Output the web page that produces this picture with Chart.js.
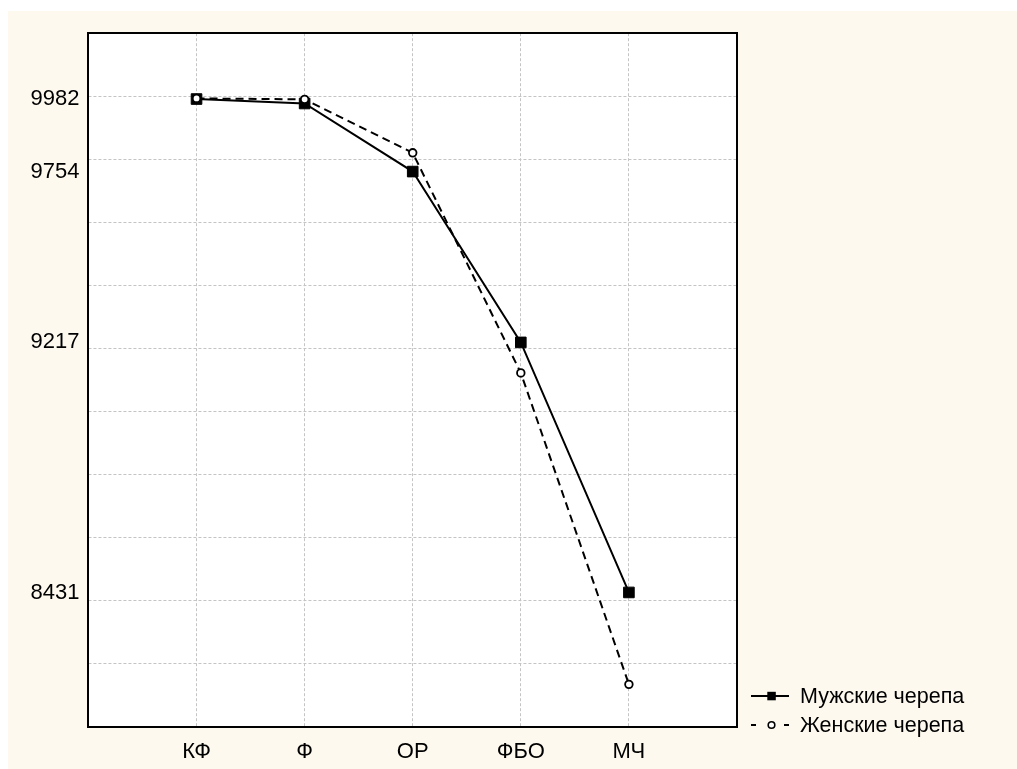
<!DOCTYPE html>
<html lang="ru">
<head>
<meta charset="utf-8">
<title>Мужские и женские черепа</title>
<script src="https://cdn.jsdelivr.net/npm/chart.js@4.4.1/dist/chart.umd.min.js"></script>
<style>
  html, body { margin: 0; padding: 0; background: #fff; }
  body { width: 1017px; height: 769px; position: relative; overflow: hidden; font-family: "Liberation Sans", Arial, sans-serif; }
  #frame { position: absolute; left: 8px; top: 11px; width: 1009px; height: 770px; background: #fdf9ee; }
  #chart { display: block; }
  .legend-row { position: absolute; left: 750px; height: 24px; line-height: 24px; font-size: 21.5px; color: #000; white-space: nowrap; }
  .legend-row svg { position: absolute; left: 0; top: 5px; }
  .legend-row span { position: absolute; left: 50px; top: 0; }
</style>
</head>
<body>
<div id="frame"><canvas id="chart" width="1009" height="770"></canvas></div>
<div class="legend-row" style="top:684px">
  <svg width="42" height="14"><line x1="1" y1="7" x2="39" y2="7" stroke="#000" stroke-width="2"/><rect x="17.3" y="2.8" width="8.5" height="8.5" fill="#000"/></svg>
  <span>Мужские черепа</span>
</div>
<div class="legend-row" style="top:713px">
  <svg width="42" height="14"><line x1="1" y1="7" x2="6" y2="7" stroke="#000" stroke-width="2"/><circle cx="21.5" cy="7" r="3.3" fill="#fff" stroke="#000" stroke-width="1.6"/><line x1="34" y1="7" x2="39" y2="7" stroke="#000" stroke-width="2"/></svg>
  <span>Женские черепа</span>
</div>
<script>
const categories = ['КФ', 'Ф', 'ОР', 'ФБО', 'МЧ'];
const maleValues = [9982, 9968, 9754, 9217, 8431];
const femaleValues = [9984, 9981, 9813, 9121, 8142];
// labels on the y axis sit at the male values
const yTickLabels = [9982, 9754, 9217, 8431];
const yMin = 8008;
const yMax = 10189;
const gridSteps = 11;

const FONT = { family: '"Liberation Sans", Arial, sans-serif', size: 22 };
const GRID = '#c4c4c4';

// white plot area on the cream page
const plotBackground = {
  id: 'plotBackground',
  beforeDraw(chart) {
    const { ctx, chartArea: a } = chart;
    ctx.save();
    ctx.fillStyle = '#fff';
    ctx.fillRect(a.left, a.top, a.right - a.left, a.bottom - a.top);
    ctx.restore();
  },
};

function toPoints(values) {
  return values.map((v, i) => ({ x: i + 1, y: v }));
}

function gridTicks() {
  const step = (yMax - yMin) / gridSteps;
  const out = [];
  for (let k = 1; k < gridSteps; k++) out.push({ value: yMin + k * step });
  return out;
}

function renderChart() {
  const ctx = document.getElementById('chart').getContext('2d');
  new Chart(ctx, {
    type: 'line',
    data: {
      datasets: [
        {
          label: 'Женские черепа',
          data: toPoints(femaleValues),
          order: 0,
          borderColor: '#000',
          borderWidth: 2,
          borderDash: [8, 5],
          pointStyle: 'circle',
          pointRadius: 3.8,
          pointBorderWidth: 1.8,
          pointBackgroundColor: '#fff',
          pointBorderColor: '#000',
          xAxisID: 'x',
          yAxisID: 'y',
        },
        {
          label: 'Мужские черепа',
          data: toPoints(maleValues),
          order: 1,
          borderColor: '#000',
          borderWidth: 2,
          pointStyle: 'rect',
          pointRadius: 7.5,
          pointBorderWidth: 1,
          pointBackgroundColor: '#000',
          pointBorderColor: '#000',
          xAxisID: 'x',
          yAxisID: 'y',
        },
      ],
    },
    options: {
      responsive: false,
      animation: false,
      devicePixelRatio: 1,
      layout: { padding: { left: 13.5, top: 18, right: 280, bottom: 4 } },
      plugins: {
        legend: { display: false },
        tooltip: { enabled: false },
      },
      scales: {
        x: {
          type: 'linear',
          position: 'bottom',
          min: 0,
          max: categories.length + 1,
          afterBuildTicks: axis => { axis.ticks = categories.map((c, i) => ({ value: i + 1 })); },
          ticks: {
            color: '#000',
            font: FONT,
            padding: 11.8,
            autoSkip: false,
            maxRotation: 0,
            callback: (v, i) => categories[i],
          },
          grid: { color: GRID, lineWidth: 1, drawTicks: false },
          border: { color: '#000', width: 2, dash: [3, 2] },
        },
        xTop: {
          type: 'linear',
          position: 'top',
          min: 0,
          max: categories.length + 1,
          ticks: { display: false },
          grid: { display: false, drawTicks: false },
          border: { color: '#000', width: 2 },
        },
        y: {
          type: 'linear',
          position: 'left',
          min: yMin,
          max: yMax,
          afterBuildTicks: axis => { axis.ticks = yTickLabels.map(v => ({ value: v })); },
          ticks: {
            color: '#000',
            font: FONT,
            padding: 9,
            autoSkip: false,
            callback: v => String(v),
          },
          grid: { display: false, drawTicks: false },
          border: { color: '#000', width: 2 },
        },
        yGrid: {
          type: 'linear',
          position: 'right',
          min: yMin,
          max: yMax,
          afterBuildTicks: axis => { axis.ticks = gridTicks(); },
          ticks: { display: false },
          grid: { color: GRID, lineWidth: 1, drawTicks: false },
          border: { color: '#000', width: 2, dash: [3, 2] },
        },
      },
    },
    plugins: [plotBackground],
  });
}

renderChart();
</script>
</body>
</html>
